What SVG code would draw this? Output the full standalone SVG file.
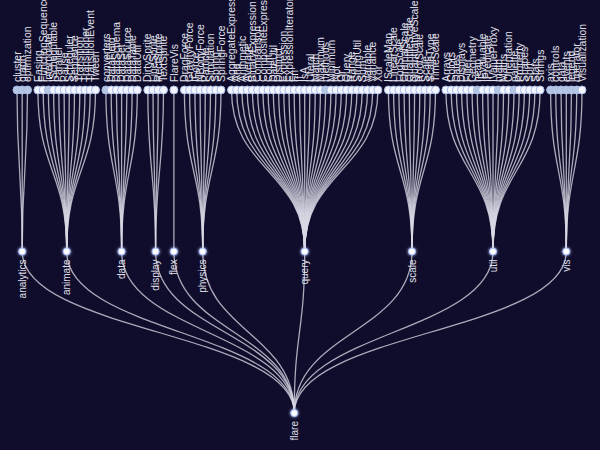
<svg xmlns="http://www.w3.org/2000/svg" width="600" height="450" viewBox="0 0 600 450">
<defs>
<filter id="glow" x="-2" y="-2" width="5" height="5"><feGaussianBlur stdDeviation="1.5" result="b"/><feMerge><feMergeNode in="b"/><feMergeNode in="SourceGraphic"/></feMerge></filter>
<style>
.links path{fill:none;stroke:#d8d8e6;stroke-opacity:.78;stroke-width:1.3}
text{font-family:"Liberation Sans",Arial,sans-serif;font-size:10px;fill:#e0e0ea}
.leaf circle{r:4;fill:#f4f6ff;stroke:#a9bbe6;stroke-width:1}
.col circle{r:4;fill:#b4c6e2;stroke:#a9bbe6;stroke-width:1}
.leaf text,.col text{text-anchor:start;font-size:10.4px}
.inner circle{r:3.5;fill:#fff;stroke:#9fb6ff;stroke-width:1;filter:url(#glow)}
.inner text{text-anchor:end}
</style>
</defs>
<rect width="600" height="450" fill="#100d2c"/>
<g class="links" id="connectors">
<path d="M294.25,413C294.25,332.25 22.2,332.25 22.2,251.5"/>
<path d="M294.25,413C294.25,332.25 66.7,332.25 66.7,251.5"/>
<path d="M294.25,413C294.25,332.25 121.6,332.25 121.6,251.5"/>
<path d="M294.25,413C294.25,332.25 155.6,332.25 155.6,251.5"/>
<path d="M294.25,413C294.25,332.25 173.9,332.25 173.9,251.5"/>
<path d="M294.25,413C294.25,332.25 202.7,332.25 202.7,251.5"/>
<path d="M294.25,413C294.25,332.25 304.7,332.25 304.7,251.5"/>
<path d="M294.25,413C294.25,332.25 412,332.25 412,251.5"/>
<path d="M294.25,413C294.25,332.25 493,332.25 493,251.5"/>
<path d="M294.25,413C294.25,332.25 566.3,332.25 566.3,251.5"/>
<path d="M22.2,251.5C22.2,170.75 17,170.75 17,90"/>
<path d="M22.2,251.5C22.2,170.75 22.2,170.75 22.2,90"/>
<path d="M22.2,251.5C22.2,170.75 27.5,170.75 27.5,90"/>
<path d="M66.7,251.5C66.7,170.75 37.9,170.75 37.9,90"/>
<path d="M66.7,251.5C66.7,170.75 43.2,170.75 43.2,90"/>
<path d="M66.7,251.5C66.7,170.75 48.4,170.75 48.4,90"/>
<path d="M66.7,251.5C66.7,170.75 53.6,170.75 53.6,90"/>
<path d="M66.7,251.5C66.7,170.75 58.8,170.75 58.8,90"/>
<path d="M66.7,251.5C66.7,170.75 64.1,170.75 64.1,90"/>
<path d="M66.7,251.5C66.7,170.75 69.3,170.75 69.3,90"/>
<path d="M66.7,251.5C66.7,170.75 74.5,170.75 74.5,90"/>
<path d="M66.7,251.5C66.7,170.75 79.8,170.75 79.8,90"/>
<path d="M66.7,251.5C66.7,170.75 85,170.75 85,90"/>
<path d="M66.7,251.5C66.7,170.75 90.2,170.75 90.2,90"/>
<path d="M66.7,251.5C66.7,170.75 95.5,170.75 95.5,90"/>
<path d="M121.6,251.5C121.6,170.75 105.9,170.75 105.9,90"/>
<path d="M121.6,251.5C121.6,170.75 111.2,170.75 111.2,90"/>
<path d="M121.6,251.5C121.6,170.75 116.4,170.75 116.4,90"/>
<path d="M121.6,251.5C121.6,170.75 121.6,170.75 121.6,90"/>
<path d="M121.6,251.5C121.6,170.75 126.9,170.75 126.9,90"/>
<path d="M121.6,251.5C121.6,170.75 132.1,170.75 132.1,90"/>
<path d="M121.6,251.5C121.6,170.75 137.3,170.75 137.3,90"/>
<path d="M155.6,251.5C155.6,170.75 147.8,170.75 147.8,90"/>
<path d="M155.6,251.5C155.6,170.75 153,170.75 153,90"/>
<path d="M155.6,251.5C155.6,170.75 158.2,170.75 158.2,90"/>
<path d="M155.6,251.5C155.6,170.75 163.5,170.75 163.5,90"/>
<path d="M173.9,251.5C173.9,170.75 173.9,170.75 173.9,90"/>
<path d="M202.7,251.5C202.7,170.75 184.4,170.75 184.4,90"/>
<path d="M202.7,251.5C202.7,170.75 189.6,170.75 189.6,90"/>
<path d="M202.7,251.5C202.7,170.75 194.9,170.75 194.9,90"/>
<path d="M202.7,251.5C202.7,170.75 200.1,170.75 200.1,90"/>
<path d="M202.7,251.5C202.7,170.75 205.3,170.75 205.3,90"/>
<path d="M202.7,251.5C202.7,170.75 210.5,170.75 210.5,90"/>
<path d="M202.7,251.5C202.7,170.75 215.8,170.75 215.8,90"/>
<path d="M202.7,251.5C202.7,170.75 221,170.75 221,90"/>
<path d="M304.7,251.5C304.7,170.75 231.5,170.75 231.5,90"/>
<path d="M304.7,251.5C304.7,170.75 236.7,170.75 236.7,90"/>
<path d="M304.7,251.5C304.7,170.75 241.9,170.75 241.9,90"/>
<path d="M304.7,251.5C304.7,170.75 247.2,170.75 247.2,90"/>
<path d="M304.7,251.5C304.7,170.75 252.4,170.75 252.4,90"/>
<path d="M304.7,251.5C304.7,170.75 257.6,170.75 257.6,90"/>
<path d="M304.7,251.5C304.7,170.75 262.9,170.75 262.9,90"/>
<path d="M304.7,251.5C304.7,170.75 268.1,170.75 268.1,90"/>
<path d="M304.7,251.5C304.7,170.75 273.3,170.75 273.3,90"/>
<path d="M304.7,251.5C304.7,170.75 278.6,170.75 278.6,90"/>
<path d="M304.7,251.5C304.7,170.75 283.8,170.75 283.8,90"/>
<path d="M304.7,251.5C304.7,170.75 289,170.75 289,90"/>
<path d="M304.7,251.5C304.7,170.75 294.2,170.75 294.2,90"/>
<path d="M304.7,251.5C304.7,170.75 299.5,170.75 299.5,90"/>
<path d="M304.7,251.5C304.7,170.75 304.7,170.75 304.7,90"/>
<path d="M304.7,251.5C304.7,170.75 309.9,170.75 309.9,90"/>
<path d="M304.7,251.5C304.7,170.75 315.2,170.75 315.2,90"/>
<path d="M304.7,251.5C304.7,170.75 320.4,170.75 320.4,90"/>
<path d="M304.7,251.5C304.7,170.75 325.6,170.75 325.6,90"/>
<path d="M304.7,251.5C304.7,170.75 330.9,170.75 330.9,90"/>
<path d="M304.7,251.5C304.7,170.75 336.1,170.75 336.1,90"/>
<path d="M304.7,251.5C304.7,170.75 341.3,170.75 341.3,90"/>
<path d="M304.7,251.5C304.7,170.75 346.6,170.75 346.6,90"/>
<path d="M304.7,251.5C304.7,170.75 351.8,170.75 351.8,90"/>
<path d="M304.7,251.5C304.7,170.75 357,170.75 357,90"/>
<path d="M304.7,251.5C304.7,170.75 362.2,170.75 362.2,90"/>
<path d="M304.7,251.5C304.7,170.75 367.5,170.75 367.5,90"/>
<path d="M304.7,251.5C304.7,170.75 372.7,170.75 372.7,90"/>
<path d="M304.7,251.5C304.7,170.75 377.9,170.75 377.9,90"/>
<path d="M412,251.5C412,170.75 388.4,170.75 388.4,90"/>
<path d="M412,251.5C412,170.75 393.6,170.75 393.6,90"/>
<path d="M412,251.5C412,170.75 398.9,170.75 398.9,90"/>
<path d="M412,251.5C412,170.75 404.1,170.75 404.1,90"/>
<path d="M412,251.5C412,170.75 409.3,170.75 409.3,90"/>
<path d="M412,251.5C412,170.75 414.6,170.75 414.6,90"/>
<path d="M412,251.5C412,170.75 419.8,170.75 419.8,90"/>
<path d="M412,251.5C412,170.75 425,170.75 425,90"/>
<path d="M412,251.5C412,170.75 430.2,170.75 430.2,90"/>
<path d="M412,251.5C412,170.75 435.5,170.75 435.5,90"/>
<path d="M493,251.5C493,170.75 445.9,170.75 445.9,90"/>
<path d="M493,251.5C493,170.75 451.2,170.75 451.2,90"/>
<path d="M493,251.5C493,170.75 456.4,170.75 456.4,90"/>
<path d="M493,251.5C493,170.75 461.6,170.75 461.6,90"/>
<path d="M493,251.5C493,170.75 466.9,170.75 466.9,90"/>
<path d="M493,251.5C493,170.75 472.1,170.75 472.1,90"/>
<path d="M493,251.5C493,170.75 477.3,170.75 477.3,90"/>
<path d="M493,251.5C493,170.75 482.6,170.75 482.6,90"/>
<path d="M493,251.5C493,170.75 487.8,170.75 487.8,90"/>
<path d="M493,251.5C493,170.75 493,170.75 493,90"/>
<path d="M493,251.5C493,170.75 498.3,170.75 498.3,90"/>
<path d="M493,251.5C493,170.75 503.5,170.75 503.5,90"/>
<path d="M493,251.5C493,170.75 508.7,170.75 508.7,90"/>
<path d="M493,251.5C493,170.75 514,170.75 514,90"/>
<path d="M493,251.5C493,170.75 519.2,170.75 519.2,90"/>
<path d="M493,251.5C493,170.75 524.4,170.75 524.4,90"/>
<path d="M493,251.5C493,170.75 529.7,170.75 529.7,90"/>
<path d="M493,251.5C493,170.75 534.9,170.75 534.9,90"/>
<path d="M493,251.5C493,170.75 540.1,170.75 540.1,90"/>
<path d="M566.3,251.5C566.3,170.75 550.6,170.75 550.6,90"/>
<path d="M566.3,251.5C566.3,170.75 555.8,170.75 555.8,90"/>
<path d="M566.3,251.5C566.3,170.75 561,170.75 561,90"/>
<path d="M566.3,251.5C566.3,170.75 566.3,170.75 566.3,90"/>
<path d="M566.3,251.5C566.3,170.75 571.5,170.75 571.5,90"/>
<path d="M566.3,251.5C566.3,170.75 576.7,170.75 576.7,90"/>
<path d="M566.3,251.5C566.3,170.75 582,170.75 582,90"/>
</g>
<g id="nodes">
<g id="n-flare" class="inner" transform="translate(294.25,413)"><circle r="3.5"/><text transform="rotate(-90)" x="-8" dy=".35em">flare</text></g>
<g id="n-analytics" class="inner" transform="translate(22.2,251.5)"><circle r="3.5"/><text transform="rotate(-90)" x="-8" dy=".35em">analytics</text></g>
<g id="n-animate" class="inner" transform="translate(66.7,251.5)"><circle r="3.5"/><text transform="rotate(-90)" x="-8" dy=".35em">animate</text></g>
<g id="n-data" class="inner" transform="translate(121.6,251.5)"><circle r="3.5"/><text transform="rotate(-90)" x="-8" dy=".35em">data</text></g>
<g id="n-display" class="inner" transform="translate(155.6,251.5)"><circle r="3.5"/><text transform="rotate(-90)" x="-8" dy=".35em">display</text></g>
<g id="n-flex" class="inner" transform="translate(173.9,251.5)"><circle r="3.5"/><text transform="rotate(-90)" x="-8" dy=".35em">flex</text></g>
<g id="n-physics" class="inner" transform="translate(202.7,251.5)"><circle r="3.5"/><text transform="rotate(-90)" x="-8" dy=".35em">physics</text></g>
<g id="n-query" class="inner" transform="translate(304.7,251.5)"><circle r="3.5"/><text transform="rotate(-90)" x="-8" dy=".35em">query</text></g>
<g id="n-scale" class="inner" transform="translate(412,251.5)"><circle r="3.5"/><text transform="rotate(-90)" x="-8" dy=".35em">scale</text></g>
<g id="n-util" class="inner" transform="translate(493,251.5)"><circle r="3.5"/><text transform="rotate(-90)" x="-8" dy=".35em">util</text></g>
<g id="n-vis" class="inner" transform="translate(566.3,251.5)"><circle r="3.5"/><text transform="rotate(-90)" x="-8" dy=".35em">vis</text></g>
<g id="n-cluster" class="col" transform="translate(17,90)"><circle r="4"/><text transform="rotate(-90)" x="8" dy=".35em">cluster</text></g>
<g id="n-graph" class="col" transform="translate(22.2,90)"><circle r="4"/><text transform="rotate(-90)" x="8" dy=".35em">graph</text></g>
<g id="n-optimization" class="col" transform="translate(27.5,90)"><circle r="4"/><text transform="rotate(-90)" x="8" dy=".35em">optimization</text></g>
<g id="n-Easing" class="leaf" transform="translate(37.9,90)"><circle r="4"/><text transform="rotate(-90)" x="8" dy=".35em">Easing</text></g>
<g id="n-FunctionSequence" class="leaf" transform="translate(43.2,90)"><circle r="4"/><text transform="rotate(-90)" x="8" dy=".35em">FunctionSequence</text></g>
<g id="n-interpolate" class="col" transform="translate(48.4,90)"><circle r="4"/><text transform="rotate(-90)" x="8" dy=".35em">interpolate</text></g>
<g id="n-ISchedulable" class="leaf" transform="translate(53.6,90)"><circle r="4"/><text transform="rotate(-90)" x="8" dy=".35em">ISchedulable</text></g>
<g id="n-Parallel" class="leaf" transform="translate(58.8,90)"><circle r="4"/><text transform="rotate(-90)" x="8" dy=".35em">Parallel</text></g>
<g id="n-Pause" class="leaf" transform="translate(64.1,90)"><circle r="4"/><text transform="rotate(-90)" x="8" dy=".35em">Pause</text></g>
<g id="n-Scheduler" class="leaf" transform="translate(69.3,90)"><circle r="4"/><text transform="rotate(-90)" x="8" dy=".35em">Scheduler</text></g>
<g id="n-Sequence" class="leaf" transform="translate(74.5,90)"><circle r="4"/><text transform="rotate(-90)" x="8" dy=".35em">Sequence</text></g>
<g id="n-Transition" class="leaf" transform="translate(79.8,90)"><circle r="4"/><text transform="rotate(-90)" x="8" dy=".35em">Transition</text></g>
<g id="n-Transitioner" class="leaf" transform="translate(85,90)"><circle r="4"/><text transform="rotate(-90)" x="8" dy=".35em">Transitioner</text></g>
<g id="n-TransitionEvent" class="leaf" transform="translate(90.2,90)"><circle r="4"/><text transform="rotate(-90)" x="8" dy=".35em">TransitionEvent</text></g>
<g id="n-Tween" class="leaf" transform="translate(95.5,90)"><circle r="4"/><text transform="rotate(-90)" x="8" dy=".35em">Tween</text></g>
<g id="n-converters" class="col" transform="translate(105.9,90)"><circle r="4"/><text transform="rotate(-90)" x="8" dy=".35em">converters</text></g>
<g id="n-DataField" class="leaf" transform="translate(111.2,90)"><circle r="4"/><text transform="rotate(-90)" x="8" dy=".35em">DataField</text></g>
<g id="n-DataSchema" class="leaf" transform="translate(116.4,90)"><circle r="4"/><text transform="rotate(-90)" x="8" dy=".35em">DataSchema</text></g>
<g id="n-DataSet" class="leaf" transform="translate(121.6,90)"><circle r="4"/><text transform="rotate(-90)" x="8" dy=".35em">DataSet</text></g>
<g id="n-DataSource" class="leaf" transform="translate(126.9,90)"><circle r="4"/><text transform="rotate(-90)" x="8" dy=".35em">DataSource</text></g>
<g id="n-DataTable" class="leaf" transform="translate(132.1,90)"><circle r="4"/><text transform="rotate(-90)" x="8" dy=".35em">DataTable</text></g>
<g id="n-DataUtil" class="leaf" transform="translate(137.3,90)"><circle r="4"/><text transform="rotate(-90)" x="8" dy=".35em">DataUtil</text></g>
<g id="n-DirtySprite" class="leaf" transform="translate(147.8,90)"><circle r="4"/><text transform="rotate(-90)" x="8" dy=".35em">DirtySprite</text></g>
<g id="n-LineSprite" class="leaf" transform="translate(153,90)"><circle r="4"/><text transform="rotate(-90)" x="8" dy=".35em">LineSprite</text></g>
<g id="n-RectSprite" class="leaf" transform="translate(158.2,90)"><circle r="4"/><text transform="rotate(-90)" x="8" dy=".35em">RectSprite</text></g>
<g id="n-TextSprite" class="leaf" transform="translate(163.5,90)"><circle r="4"/><text transform="rotate(-90)" x="8" dy=".35em">TextSprite</text></g>
<g id="n-FlareVis" class="leaf" transform="translate(173.9,90)"><circle r="4"/><text transform="rotate(-90)" x="8" dy=".35em">FlareVis</text></g>
<g id="n-DragForce" class="leaf" transform="translate(184.4,90)"><circle r="4"/><text transform="rotate(-90)" x="8" dy=".35em">DragForce</text></g>
<g id="n-GravityForce" class="leaf" transform="translate(189.6,90)"><circle r="4"/><text transform="rotate(-90)" x="8" dy=".35em">GravityForce</text></g>
<g id="n-IForce" class="leaf" transform="translate(194.9,90)"><circle r="4"/><text transform="rotate(-90)" x="8" dy=".35em">IForce</text></g>
<g id="n-NBodyForce" class="leaf" transform="translate(200.1,90)"><circle r="4"/><text transform="rotate(-90)" x="8" dy=".35em">NBodyForce</text></g>
<g id="n-Particle" class="leaf" transform="translate(205.3,90)"><circle r="4"/><text transform="rotate(-90)" x="8" dy=".35em">Particle</text></g>
<g id="n-Simulation" class="leaf" transform="translate(210.5,90)"><circle r="4"/><text transform="rotate(-90)" x="8" dy=".35em">Simulation</text></g>
<g id="n-Spring" class="leaf" transform="translate(215.8,90)"><circle r="4"/><text transform="rotate(-90)" x="8" dy=".35em">Spring</text></g>
<g id="n-SpringForce" class="leaf" transform="translate(221,90)"><circle r="4"/><text transform="rotate(-90)" x="8" dy=".35em">SpringForce</text></g>
<g id="n-AggregateExpression" class="leaf" transform="translate(231.5,90)"><circle r="4"/><text transform="rotate(-90)" x="8" dy=".35em">AggregateExpression</text></g>
<g id="n-And" class="leaf" transform="translate(236.7,90)"><circle r="4"/><text transform="rotate(-90)" x="8" dy=".35em">And</text></g>
<g id="n-Arithmetic" class="leaf" transform="translate(241.9,90)"><circle r="4"/><text transform="rotate(-90)" x="8" dy=".35em">Arithmetic</text></g>
<g id="n-Average" class="leaf" transform="translate(247.2,90)"><circle r="4"/><text transform="rotate(-90)" x="8" dy=".35em">Average</text></g>
<g id="n-BinaryExpression" class="leaf" transform="translate(252.4,90)"><circle r="4"/><text transform="rotate(-90)" x="8" dy=".35em">BinaryExpression</text></g>
<g id="n-Comparison" class="leaf" transform="translate(257.6,90)"><circle r="4"/><text transform="rotate(-90)" x="8" dy=".35em">Comparison</text></g>
<g id="n-CompositeExpression" class="leaf" transform="translate(262.9,90)"><circle r="4"/><text transform="rotate(-90)" x="8" dy=".35em">CompositeExpression</text></g>
<g id="n-Count" class="leaf" transform="translate(268.1,90)"><circle r="4"/><text transform="rotate(-90)" x="8" dy=".35em">Count</text></g>
<g id="n-DateUtil" class="leaf" transform="translate(273.3,90)"><circle r="4"/><text transform="rotate(-90)" x="8" dy=".35em">DateUtil</text></g>
<g id="n-Distinct" class="leaf" transform="translate(278.6,90)"><circle r="4"/><text transform="rotate(-90)" x="8" dy=".35em">Distinct</text></g>
<g id="n-Expression" class="leaf" transform="translate(283.8,90)"><circle r="4"/><text transform="rotate(-90)" x="8" dy=".35em">Expression</text></g>
<g id="n-ExpressionIterator" class="leaf" transform="translate(289,90)"><circle r="4"/><text transform="rotate(-90)" x="8" dy=".35em">ExpressionIterator</text></g>
<g id="n-Fn" class="leaf" transform="translate(294.2,90)"><circle r="4"/><text transform="rotate(-90)" x="8" dy=".35em">Fn</text></g>
<g id="n-If" class="leaf" transform="translate(299.5,90)"><circle r="4"/><text transform="rotate(-90)" x="8" dy=".35em">If</text></g>
<g id="n-IsA" class="leaf" transform="translate(304.7,90)"><circle r="4"/><text transform="rotate(-90)" x="8" dy=".35em">IsA</text></g>
<g id="n-Literal" class="leaf" transform="translate(309.9,90)"><circle r="4"/><text transform="rotate(-90)" x="8" dy=".35em">Literal</text></g>
<g id="n-Match" class="leaf" transform="translate(315.2,90)"><circle r="4"/><text transform="rotate(-90)" x="8" dy=".35em">Match</text></g>
<g id="n-Maximum" class="leaf" transform="translate(320.4,90)"><circle r="4"/><text transform="rotate(-90)" x="8" dy=".35em">Maximum</text></g>
<g id="n-methods" class="col" transform="translate(325.6,90)"><circle r="4"/><text transform="rotate(-90)" x="8" dy=".35em">methods</text></g>
<g id="n-Minimum" class="leaf" transform="translate(330.9,90)"><circle r="4"/><text transform="rotate(-90)" x="8" dy=".35em">Minimum</text></g>
<g id="n-Not" class="leaf" transform="translate(336.1,90)"><circle r="4"/><text transform="rotate(-90)" x="8" dy=".35em">Not</text></g>
<g id="n-Or" class="leaf" transform="translate(341.3,90)"><circle r="4"/><text transform="rotate(-90)" x="8" dy=".35em">Or</text></g>
<g id="n-Query" class="leaf" transform="translate(346.6,90)"><circle r="4"/><text transform="rotate(-90)" x="8" dy=".35em">Query</text></g>
<g id="n-Range" class="leaf" transform="translate(351.8,90)"><circle r="4"/><text transform="rotate(-90)" x="8" dy=".35em">Range</text></g>
<g id="n-StringUtil" class="leaf" transform="translate(357,90)"><circle r="4"/><text transform="rotate(-90)" x="8" dy=".35em">StringUtil</text></g>
<g id="n-Sum" class="leaf" transform="translate(362.2,90)"><circle r="4"/><text transform="rotate(-90)" x="8" dy=".35em">Sum</text></g>
<g id="n-Variable" class="leaf" transform="translate(367.5,90)"><circle r="4"/><text transform="rotate(-90)" x="8" dy=".35em">Variable</text></g>
<g id="n-Variance" class="leaf" transform="translate(372.7,90)"><circle r="4"/><text transform="rotate(-90)" x="8" dy=".35em">Variance</text></g>
<g id="n-Xor" class="leaf" transform="translate(377.9,90)"><circle r="4"/><text transform="rotate(-90)" x="8" dy=".35em">Xor</text></g>
<g id="n-IScaleMap" class="leaf" transform="translate(388.4,90)"><circle r="4"/><text transform="rotate(-90)" x="8" dy=".35em">IScaleMap</text></g>
<g id="n-LinearScale" class="leaf" transform="translate(393.6,90)"><circle r="4"/><text transform="rotate(-90)" x="8" dy=".35em">LinearScale</text></g>
<g id="n-LogScale" class="leaf" transform="translate(398.9,90)"><circle r="4"/><text transform="rotate(-90)" x="8" dy=".35em">LogScale</text></g>
<g id="n-OrdinalScale" class="leaf" transform="translate(404.1,90)"><circle r="4"/><text transform="rotate(-90)" x="8" dy=".35em">OrdinalScale</text></g>
<g id="n-QuantileScale" class="leaf" transform="translate(409.3,90)"><circle r="4"/><text transform="rotate(-90)" x="8" dy=".35em">QuantileScale</text></g>
<g id="n-QuantitativeScale" class="leaf" transform="translate(414.6,90)"><circle r="4"/><text transform="rotate(-90)" x="8" dy=".35em">QuantitativeScale</text></g>
<g id="n-RootScale" class="leaf" transform="translate(419.8,90)"><circle r="4"/><text transform="rotate(-90)" x="8" dy=".35em">RootScale</text></g>
<g id="n-Scale" class="leaf" transform="translate(425,90)"><circle r="4"/><text transform="rotate(-90)" x="8" dy=".35em">Scale</text></g>
<g id="n-ScaleType" class="leaf" transform="translate(430.2,90)"><circle r="4"/><text transform="rotate(-90)" x="8" dy=".35em">ScaleType</text></g>
<g id="n-TimeScale" class="leaf" transform="translate(435.5,90)"><circle r="4"/><text transform="rotate(-90)" x="8" dy=".35em">TimeScale</text></g>
<g id="n-Arrays" class="leaf" transform="translate(445.9,90)"><circle r="4"/><text transform="rotate(-90)" x="8" dy=".35em">Arrays</text></g>
<g id="n-Colors" class="leaf" transform="translate(451.2,90)"><circle r="4"/><text transform="rotate(-90)" x="8" dy=".35em">Colors</text></g>
<g id="n-Dates" class="leaf" transform="translate(456.4,90)"><circle r="4"/><text transform="rotate(-90)" x="8" dy=".35em">Dates</text></g>
<g id="n-Displays" class="leaf" transform="translate(461.6,90)"><circle r="4"/><text transform="rotate(-90)" x="8" dy=".35em">Displays</text></g>
<g id="n-Filter" class="leaf" transform="translate(466.9,90)"><circle r="4"/><text transform="rotate(-90)" x="8" dy=".35em">Filter</text></g>
<g id="n-Geometry" class="leaf" transform="translate(472.1,90)"><circle r="4"/><text transform="rotate(-90)" x="8" dy=".35em">Geometry</text></g>
<g id="n-heap" class="col" transform="translate(477.3,90)"><circle r="4"/><text transform="rotate(-90)" x="8" dy=".35em">heap</text></g>
<g id="n-IEvaluable" class="leaf" transform="translate(482.6,90)"><circle r="4"/><text transform="rotate(-90)" x="8" dy=".35em">IEvaluable</text></g>
<g id="n-IPredicate" class="leaf" transform="translate(487.8,90)"><circle r="4"/><text transform="rotate(-90)" x="8" dy=".35em">IPredicate</text></g>
<g id="n-IValueProxy" class="leaf" transform="translate(493,90)"><circle r="4"/><text transform="rotate(-90)" x="8" dy=".35em">IValueProxy</text></g>
<g id="n-math" class="col" transform="translate(498.3,90)"><circle r="4"/><text transform="rotate(-90)" x="8" dy=".35em">math</text></g>
<g id="n-Maths" class="leaf" transform="translate(503.5,90)"><circle r="4"/><text transform="rotate(-90)" x="8" dy=".35em">Maths</text></g>
<g id="n-Orientation" class="leaf" transform="translate(508.7,90)"><circle r="4"/><text transform="rotate(-90)" x="8" dy=".35em">Orientation</text></g>
<g id="n-palette" class="col" transform="translate(514,90)"><circle r="4"/><text transform="rotate(-90)" x="8" dy=".35em">palette</text></g>
<g id="n-Property" class="leaf" transform="translate(519.2,90)"><circle r="4"/><text transform="rotate(-90)" x="8" dy=".35em">Property</text></g>
<g id="n-Shapes" class="leaf" transform="translate(524.4,90)"><circle r="4"/><text transform="rotate(-90)" x="8" dy=".35em">Shapes</text></g>
<g id="n-Sort" class="leaf" transform="translate(529.7,90)"><circle r="4"/><text transform="rotate(-90)" x="8" dy=".35em">Sort</text></g>
<g id="n-Stats" class="leaf" transform="translate(534.9,90)"><circle r="4"/><text transform="rotate(-90)" x="8" dy=".35em">Stats</text></g>
<g id="n-Strings" class="leaf" transform="translate(540.1,90)"><circle r="4"/><text transform="rotate(-90)" x="8" dy=".35em">Strings</text></g>
<g id="n-axis" class="col" transform="translate(550.6,90)"><circle r="4"/><text transform="rotate(-90)" x="8" dy=".35em">axis</text></g>
<g id="n-controls" class="col" transform="translate(555.8,90)"><circle r="4"/><text transform="rotate(-90)" x="8" dy=".35em">controls</text></g>
<g id="n-vis-data" class="col" transform="translate(561,90)"><circle r="4"/><text transform="rotate(-90)" x="8" dy=".35em">data</text></g>
<g id="n-events" class="col" transform="translate(566.3,90)"><circle r="4"/><text transform="rotate(-90)" x="8" dy=".35em">events</text></g>
<g id="n-legend" class="col" transform="translate(571.5,90)"><circle r="4"/><text transform="rotate(-90)" x="8" dy=".35em">legend</text></g>
<g id="n-operator" class="col" transform="translate(576.7,90)"><circle r="4"/><text transform="rotate(-90)" x="8" dy=".35em">operator</text></g>
<g id="n-Visualization" class="leaf" transform="translate(582,90)"><circle r="4"/><text transform="rotate(-90)" x="8" dy=".35em">Visualization</text></g>
</g>
</svg>
